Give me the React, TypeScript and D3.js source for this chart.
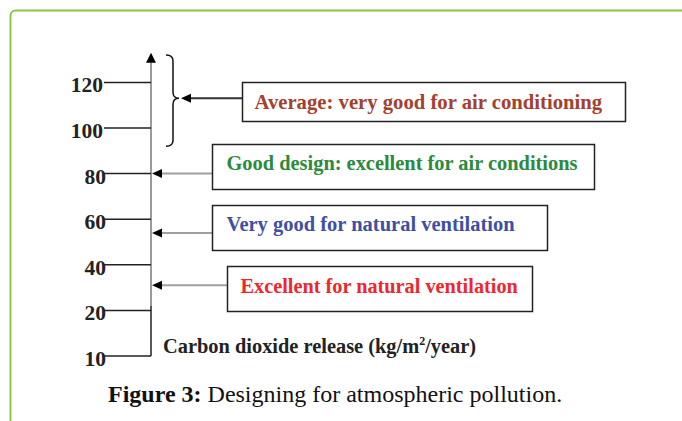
import React from "react";
import * as d3 from "d3";

// ---- data ----
const tickValues = [10, 20, 40, 60, 80, 100, 120];
const categories = [
  "Average: very good for air conditioning",
  "Good design: excellent for air conditions",
  "Very good for natural ventilation",
  "Excellent for natural ventilation",
];
const pointValues = [113, 80, 54, 31];
const averageRange = [92, 132];
const axisTopValue = 133;
const axisBaseValue = 22;
const axisTitle = ["Carbon dioxide release (kg/m", "2", "/year)"];
const captionBold = "Figure 3:";
const captionText = " Designing for atmospheric pollution.";

// ---- styles / layout ----
const textColors = ["#a4402e", "#2b8a3c", "#3f4fa3", "#ef272d"];
const boxes = [
  { x: 242.5, y: 82.5, w: 383, h: 39, pad: 12, base: 26, fs: 20.7 },
  { x: 212.5, y: 144.5, w: 382, h: 45, pad: 14, base: 25, fs: 20.4 },
  { x: 212.5, y: 205.5, w: 335, h: 45, pad: 14, base: 25, fs: 20.5 },
  { x: 227.5, y: 266.5, w: 305, h: 45, pad: 13, base: 26, fs: 20.3 },
];
const FONT = "'Liberation Serif', 'Times New Roman', serif";
const W = 682;
const H = 421;
const axisX = 151;
const tickStart = 104;

export default function App() {
  const y = d3
    .scaleLinear()
    .domain(tickValues)
    .range(tickValues.map((_, i) => 356 - i * 45.6));

  const yTop = y(axisTopValue);
  const yBase = y(axisBaseValue);
  const yBottom = y(tickValues[0]);

  const bTop = y(averageRange[1]);
  const bBot = y(averageRange[0]);
  const bMid = y(pointValues[0]);
  const sx = 173;
  const bracket = `M166,${bTop} Q${sx},${bTop} ${sx},${bTop + 6} L${sx},${bMid - 6} Q${sx},${bMid} ${sx + 6},${bMid} Q${sx},${bMid} ${sx},${bMid + 6} L${sx},${bBot - 6} Q${sx},${bBot} 166,${bBot}`;

  return (
    <svg
      width={W}
      height={H}
      style={{ position: "absolute", left: 0, top: 0, background: "#fff" }}
      fontFamily={FONT}
    >
      <rect x={10.5} y={10.5} width={720} height={460} rx={5} fill="none" stroke="#8cc83f" strokeWidth={2} />

      {/* axis */}
      <line x1={axisX} x2={axisX} y1={yTop + 8} y2={yBase} stroke="#9a9a9a" strokeWidth={2} />
      <line x1={axisX} x2={axisX} y1={yBase} y2={yBottom} stroke="#222" strokeWidth={1.5} />
      <polygon points={`${axisX},${yTop} ${axisX - 5},${yTop + 10} ${axisX + 5},${yTop + 10}`} fill="#000" />

      {tickValues.map((t) => (
        <g key={t}>
          <line x1={tickStart} x2={axisX} y1={y(t)} y2={y(t)} stroke="#222" strokeWidth={1.5} />
          <text
            x={t >= 100 ? tickStart - 1 : tickStart + 2}
            y={y(t) + 10}
            textAnchor="end"
            fontSize={21.5}
            fontWeight="bold"
            fill="#222"
          >
            {t}
          </text>
        </g>
      ))}

      {/* bracket */}
      <path d={bracket} fill="none" stroke="#111" strokeWidth={1.5} />

      {/* arrows and boxes */}
      {categories.map((c, i) => {
        const b = boxes[i];
        const ay = y(pointValues[i]);
        const tip = i === 0 ? 181 : 152;
        const base = tip + 10;
        return (
          <g key={c}>
            <line
              x1={base}
              x2={b.x}
              y1={ay}
              y2={ay}
              stroke={i === 0 ? "#333" : "#a0a0a0"}
              strokeWidth={2}
            />
            <polygon points={`${tip},${ay} ${base},${ay - 4.5} ${base},${ay + 4.5}`} fill="#000" />
            <rect x={b.x} y={b.y} width={b.w} height={b.h} fill="#fff" stroke="#222" strokeWidth={1.5} />
            <text x={b.x + b.pad} y={b.y + b.base} fontSize={b.fs} fontWeight="bold" fill={textColors[i]}>
              {c}
            </text>
          </g>
        );
      })}

      {/* axis title */}
      <text x={163} y={352.5} fontSize={20.4} fontWeight="bold" fill="#222">
        {axisTitle[0]}
        <tspan fontSize={12} dy={-8}>
          {axisTitle[1]}
        </tspan>
        <tspan dy={8}>{axisTitle[2]}</tspan>
      </text>

      {/* caption */}
      <text x={108} y={402} fontSize={24} fill="#111">
        <tspan fontWeight="bold">{captionBold}</tspan>
        <tspan>{captionText}</tspan>
      </text>
    </svg>
  );
}
